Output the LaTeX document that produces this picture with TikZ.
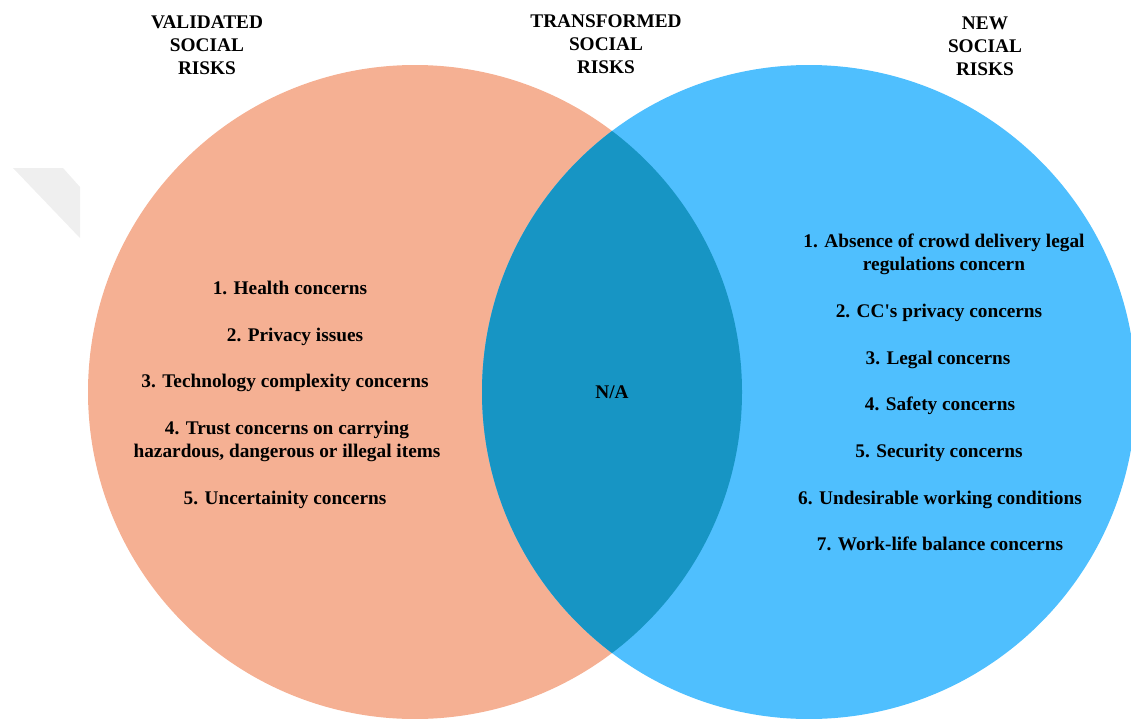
\documentclass[tikz,border=0pt]{standalone}
\usepackage{fontspec}
\setmainfont{Liberation Serif}
\definecolor{riskorange}{RGB}{245,176,147}
\definecolor{riskblue}{RGB}{79,191,254}
\definecolor{riskoverlap}{RGB}{23,149,196}
\definecolor{foldgray}{RGB}{239,239,239}
\tikzset{
  lbl/.style={anchor=base, align=center, inner sep=0pt,
    font=\fontsize{19.3}{23}\selectfont\bfseries, text=black},
}
\begin{document}
\begin{tikzpicture}[x=1pt, y=-1pt]
  \useasboundingbox (0,0) rectangle (1131,718);
  \clip (0,0) rectangle (1131,718);

  % faint folded-corner mark at the left margin
  \fill[foldgray] (13,168) -- (63,168) -- (80,187) -- (80,238) -- cycle;

  % the two sets and their overlap
  \fill[riskorange] (415,392) circle[radius=327];
  \fill[riskblue] (809,392) circle[radius=327];
  \begin{scope}
    \clip (415,392) circle[radius=327];
    \fill[riskoverlap] (809,392) circle[radius=327];
  \end{scope}

  % set titles (base anchor sits on the last line)
  \node[lbl] (hval) at (207,74.5) {VALIDATED\\SOCIAL\\RISKS};
  \node[lbl] (htra) at (606,73) {TRANSFORMED\\SOCIAL\\RISKS};
  \node[lbl] (hnew) at (985,75.5) {NEW\\SOCIAL\\RISKS};

  % validated social risks
  \node[lbl] (v1) at (290,294.5) {1. Health concerns};
  \node[lbl] (v2) at (295,341) {2. Privacy issues};
  \node[lbl] (v3) at (285,387.5) {3. Technology complexity concerns};
  \node[lbl] (v4) at (287,457.5) {4. Trust concerns on carrying\\hazardous, dangerous or illegal items};
  \node[lbl] (v5) at (285,504.5) {5. Uncertainity concerns};

  % transformed social risks
  \node[lbl] (t0) at (612,398.5) {N/A};

  % new social risks
  \node[lbl] (n1) at (944,270.5) {1. Absence of crowd delivery legal\\regulations concern};
  \node[lbl] (n2) at (939,317.5) {2. CC\textquotesingle s privacy concerns};
  \node[lbl] (n3) at (938,364) {3. Legal concerns};
  \node[lbl] (n4) at (940,410.5) {4. Safety concerns};
  \node[lbl] (n5) at (939,457.5) {5. Security concerns};
  \node[lbl] (n6) at (940,504) {6. Undesirable working conditions};
  \node[lbl] (n7) at (940,550.5) {7. Work-life balance concerns};
\end{tikzpicture}
\end{document}
